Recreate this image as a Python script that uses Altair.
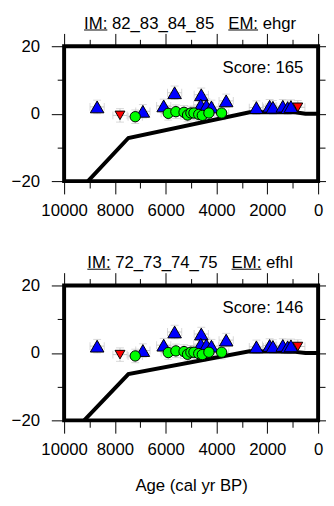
import altair as alt
import pandas as pd

# ---------------- data ----------------
up_age = [8700, 6900, 6080, 5650, 4600, 4620, 4400, 4200, 3620, 2430, 1910, 1780, 1390, 1200, 1070]
up_val = [2.0, 0.7, 2.3, 6.2, 5.6, 2.6, 2.4, 2.0, 3.8, 1.8, 2.2, 1.9, 2.2, 1.8, 2.1]
down_age = [7800, 800]
down_val = [-0.5, 1.9]
circ_age = [7200, 5900, 5600, 5280, 5140, 5010, 4890, 4700, 4560, 4300, 3800]
circ_val = [-0.9, 0.1, 0.6, 0.4, -0.4, 0.2, 0.2, -0.2, -0.5, 0.2, 0.2]
err_age = 280
err_val = 2.0

line1_age = [9060, 7470, 2700, 900, 500, 0]
line1_val = [-20.0, -7.2, 0.4, 0.4, 0.0, 0.0]
line2_age = [9210, 7470, 2700, 900, 500, 0]
line2_val = [-20.0, -6.3, 0.5, 0.3, 0.0, 0.0]

im_labels = ["82_83_84_85", "72_73_74_75"]
em_labels = ["ehgr", "efhl"]
scores = [165, 146]

x_ticks = list(range(0, 10001, 1000))
y_ticks = [-20, -10, 0, 10, 20]

# ---------------- style ----------------
FONT = "Liberation Sans"
FS = 17
W, H = 258, 137
NB = "\u00a0"

ADV = {"I": .278, "M": .833, ":": .278, " ": .278, NB: .278, "_": .556, "E": .667,
       "e": .556, "h": .556, "g": .556, "r": .333, "f": .278, "l": .222}


def tw(s):
    return sum(ADV.get(c, 0.556) for c in s) * FS


xs = alt.Scale(domain=[0, 10000], reverse=True, nice=False, zero=False)
ys = alt.Scale(domain=[-20, 20], nice=False, zero=False)

pts = pd.DataFrame({
    "age": up_age + down_age + circ_age,
    "val": up_val + down_val + circ_val,
})
pts["alo"] = pts["age"] - err_age
pts["ahi"] = pts["age"] + err_age
pts["vlo"] = pts["val"] - err_val
pts["vhi"] = pts["val"] + err_val

df_up = pd.DataFrame({"age": up_age, "val": up_val})
df_down = pd.DataFrame({"age": down_age, "val": down_val})
df_circ = pd.DataFrame({"age": circ_age, "val": circ_val})

GREY = "#c8c8c8"


def tick_size(test):
    return {"condition": {"test": test, "value": 13}, "value": 7}


def panel(line_age, line_val, im, em, score, bottom_title):
    base = alt.Chart(pts)
    errh = base.mark_rule(color=GREY, strokeWidth=1).encode(
        x=alt.X("alo:Q", scale=xs, axis=None), x2="ahi:Q",
        y=alt.Y("val:Q", scale=ys, axis=None))
    errv = base.mark_rule(color=GREY, strokeWidth=1).encode(
        x=alt.X("age:Q", scale=xs, axis=None),
        y=alt.Y("vlo:Q", scale=ys, axis=None), y2="vhi:Q")
    cap_l = base.mark_tick(color=GREY, orient="vertical", size=8, thickness=1).encode(
        x=alt.X("alo:Q", scale=xs, axis=None), y=alt.Y("val:Q", scale=ys, axis=None))
    cap_r = base.mark_tick(color=GREY, orient="vertical", size=8, thickness=1).encode(
        x=alt.X("ahi:Q", scale=xs, axis=None), y=alt.Y("val:Q", scale=ys, axis=None))
    cap_b = base.mark_tick(color=GREY, orient="horizontal", size=8, thickness=1).encode(
        x=alt.X("age:Q", scale=xs, axis=None), y=alt.Y("vlo:Q", scale=ys, axis=None))
    cap_t = base.mark_tick(color=GREY, orient="horizontal", size=8, thickness=1).encode(
        x=alt.X("age:Q", scale=xs, axis=None), y=alt.Y("vhi:Q", scale=ys, axis=None))

    ldf = pd.DataFrame({"age": line_age, "val": line_val, "o": range(len(line_age))})
    xaxis = alt.Axis(
        orient="bottom", values=x_ticks, grid=False, domain=False,
        labelExpr="datum.value % 2000 === 0 ? format(datum.value, 'd') : ''",
        tickSize=tick_size("datum.value % 2000 === 0"), tickWidth=1, tickColor="black",
        labelFontSize=FS, labelPadding=9, labelColor="black", labelFont=FONT,
        title="Age (cal yr BP)" if bottom_title else None,
        titleFontSize=FS, titleFontWeight="normal", titleFont=FONT, titleColor="black",
        titlePadding=20, labelFlush=False, labelOverlap=False)
    yaxis = alt.Axis(
        orient="left", values=y_ticks, grid=False, domain=False,
        labelExpr="datum.value % 20 === 0 ? format(datum.value, 'd') : ''",
        tickSize=tick_size("datum.value % 20 === 0"), tickWidth=1, tickColor="black",
        labelFontSize=FS, labelPadding=12, labelColor="black", labelFont=FONT,
        title=None, labelFlush=False, labelOverlap=False)
    line = alt.Chart(ldf).mark_line(color="black", strokeWidth=4, clip=True,
                                    strokeJoin="miter").encode(
        x=alt.X("age:Q", scale=xs, axis=xaxis),
        y=alt.Y("val:Q", scale=ys, axis=yaxis),
        order="o:Q")

    xaxis_top = alt.Axis(
        orient="top", values=x_ticks, grid=False, domain=False, labels=False,
        tickSize=tick_size("datum.value % 2000 === 0"), tickWidth=1, tickColor="black",
        title=None)
    yaxis_right = alt.Axis(
        orient="right", values=y_ticks, grid=False, domain=False, labels=False,
        tickSize=tick_size("datum.value % 20 === 0"), tickWidth=1, tickColor="black",
        title=None)
    down = alt.Chart(df_down).mark_point(shape="triangle-down", filled=True, fill="#ff0000",
                                         stroke="black", strokeWidth=1, size=100,
                                         opacity=1).encode(
        x=alt.X("age:Q", scale=xs, axis=None),
        y=alt.Y("val:Q", scale=ys, axis=None))
    up = alt.Chart(df_up).mark_point(shape="triangle-up", filled=True, fill="#0000ff",
                                     stroke="black", strokeWidth=1, size=190,
                                     opacity=1).encode(
        x=alt.X("age:Q", scale=xs, axis=xaxis_top),
        y=alt.Y("val:Q", scale=ys, axis=yaxis_right))
    circ = alt.Chart(df_circ).mark_point(shape="circle", filled=True, fill="#00ff00",
                                         stroke="black", strokeWidth=1, size=110,
                                         opacity=1).encode(
        x=alt.X("age:Q", scale=xs, axis=None),
        y=alt.Y("val:Q", scale=ys, axis=None))

    # title pieces
    im_txt = "IM:" + NB + im
    em_txt = "EM:" + NB + em
    gap = tw(NB * 3)
    total = tw(im_txt) + gap + tw(em_txt)
    x0 = 128 - total / 2
    x1 = x0 + tw(im_txt) + gap
    tdf = pd.DataFrame({"im": [im_txt], "em": [em_txt], "score": ["Score: %d" % score]})
    tb = alt.Chart(tdf)
    t_im = tb.mark_text(align="left", baseline="alphabetic", fontSize=FS, font=FONT,
                        color="black").encode(x=alt.value(x0), y=alt.value(-18), text="im:N")
    t_em = tb.mark_text(align="left", baseline="alphabetic", fontSize=FS, font=FONT,
                        color="black").encode(x=alt.value(x1), y=alt.value(-18), text="em:N")
    u_im = tb.mark_rule(color="black", strokeWidth=1).encode(
        x=alt.value(x0), x2=alt.value(x0 + tw("IM:")), y=alt.value(-16.5))
    u_em = tb.mark_rule(color="black", strokeWidth=1).encode(
        x=alt.value(x1), x2=alt.value(x1 + tw("EM:")), y=alt.value(-16.5))
    t_sc = tb.mark_text(align="right", baseline="alphabetic", fontSize=FS, font=FONT,
                        color="black").encode(x=alt.value(243), y=alt.value(27.5), text="score:N")

    return alt.layer(errh, errv, cap_l, cap_r, cap_b, cap_t, line, down, up, circ,
                     t_im, t_em, u_im, u_em, t_sc).resolve_axis(
        x="independent", y="independent").properties(width=W, height=H)


p1 = panel(line1_age, line1_val, im_labels[0], em_labels[0], scores[0], False)
p2 = panel(line2_age, line2_val, im_labels[1], em_labels[1], scores[1], True)

chart = alt.vconcat(p1, p2, spacing=32).properties(
    padding={"left": 1, "top": 1, "right": -8, "bottom": -3}
).configure(font=FONT, background="white").configure_view(stroke="black", strokeWidth=4)

chart.save("out.html", embed_options={"renderer": "svg", "actions": False})
